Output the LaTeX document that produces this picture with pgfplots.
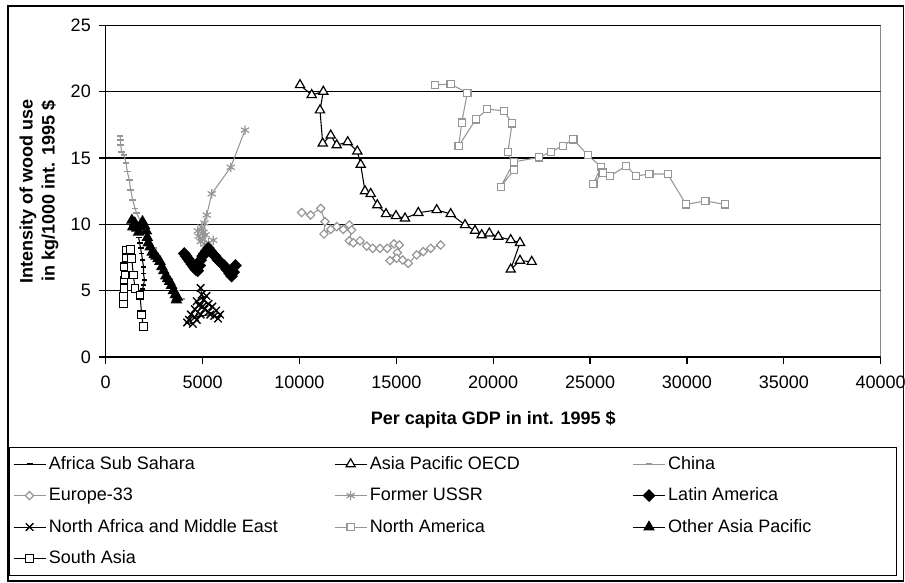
\documentclass[border=0pt]{standalone}
\usepackage{pgfplots}
\pgfplotsset{compat=1.18}
\usetikzlibrary{calc}
\usepackage{fontspec}
\setmainfont{Liberation Sans}
\definecolor{mg}{RGB}{150,150,150}
\newcommand{\LA}[1]{\makebox[212pt][l]{#1}}
\newcommand{\LBB}[1]{\makebox[195pt][l]{#1}}
\newcommand{\LC}[1]{\makebox[166pt][l]{#1}}
\newcommand{\F}{\fontsize{13.5pt}{16.5pt}\selectfont}
\begin{document}
\F
\begin{tikzpicture}[x=0.75pt,y=0.75pt]
\begin{axis}[
  scale only axis, width=581.25pt, height=248.8pt,
  xmin=0, xmax=40000, ymin=0, ymax=25,
  xtick={0,5000,...,40000}, ytick={0,5,...,25},
  scaled x ticks=false,
  xticklabel style={/pgf/number format/1000 sep={}, /pgf/number format/assume math mode=true, yshift=-4.5pt},
  yticklabel style={/pgf/number format/assume math mode=true, xshift=-1.5pt},
  tick label style={font=\F},
  axis x line*=bottom, axis y line*=left,
  axis line style={line width=0.9pt,-},
  tick style={black, line width=0.9pt},
  tick align=outside, major tick length=5pt,
  ymajorgrids, grid style={black, line width=0.9pt},
  xlabel={\bfseries Per capita GDP in int. 1995 \$},
  xlabel style={at={(axis description cs:0.5,-0.19)}, anchor=center, font=\F},
  ylabel={\bfseries Intensity of wood use\\\bfseries in kg/1000 int. 1995 \$},
  ylabel style={at={(axis description cs:-0.0861,0.5)}, anchor=center, align=center, font=\F},
  legend columns=3,
  legend cell align=left,
  legend style={at={(axis description cs:-0.1255,-0.2713)}, anchor=north west,
    draw=black, line width=0.9pt, font=\F, row sep=7.8pt, column sep=0pt,
    inner xsep=3pt, inner ysep=4.5pt, nodes={inner sep=2pt}},
  legend image code/.code={\draw[mark repeat=2,mark phase=2,#1] plot coordinates {(0pt,0pt) (12pt,0pt) (24pt,0pt)};},
]
% Africa Sub Sahara
\addplot[black, line width=0.8pt, mark=-, mark size=2.2pt, mark options={solid, line width=1.3pt}] coordinates {
(1700,9.0)(1750,8.6)(1800,8.2)(1850,7.8)(1900,7.3)(1950,6.8)(1950,6.3)(2000,5.8)(1950,5.4)(1900,5.1)(1850,5.0)};
\addlegendentry{\LA{Africa Sub Sahara}}
% Asia Pacific OECD
\addplot[black, line width=0.8pt, mark=triangle*, mark size=4pt, mark options={solid, fill=white, line width=0.9pt}] coordinates {
(10028,20.5)(10632,19.75)(11231,20.0)(11060,18.6)(11200,16.1)(11613,16.7)(11923,15.97)(12490,16.2)(12986,15.5)(13161,14.5)(13383,12.5)(13677,12.3)(14018,11.45)(14467,10.78)(14983,10.63)(15448,10.45)(16134,10.87)(17084,11.08)(17806,10.78)(18545,9.95)(19061,9.52)(19406,9.19)(19799,9.32)(20263,9.07)(20903,8.82)(21383,8.61)(20903,6.6)(21383,7.26)(21987,7.18)};
\addlegendentry{\LBB{Asia Pacific OECD}}
% China
\addplot[mg, line width=0.8pt, mark=-, mark size=2.5pt, mark options={solid, line width=1.2pt}] coordinates {
(738,16.65)(774,16.35)(774,15.97)(826,15.47)(945,15.22)(1048,14.6)(1115,13.97)(1218,13.34)(1290,12.58)(1394,11.83)(1512,11.2)(1600,10.83)(1800,10.2)(2100,9.4)(2500,8.2)(2900,7.0)(3300,5.9)(3650,5.0)(3938,4.37)};
\addlegendentry{\LC{China}}
% Europe-33
\addplot[mg, line width=0.8pt, mark=square*, mark size=2.2pt, mark options={solid, fill=white, rotate=45, line width=0.9pt}] coordinates {
(10116,10.89)(10581,10.7)(11097,11.2)(11319,10.2)(11267,9.27)(11613,9.62)(11923,9.82)(12263,9.62)(12573,9.95)(12697,9.57)(12573,8.76)(12779,8.61)(13125,8.76)(13471,8.36)(13781,8.19)(14158,8.19)(14534,8.19)(14880,8.52)(15154,8.44)(15050,7.86)(14674,7.26)(15020,7.44)(15329,7.31)(15618,7.06)(16052,7.69)(16392,7.94)(16774,8.19)(17290,8.44)};
\addlegendentry{\LA{Europe-33}}
% Former USSR
\addplot[mg, line width=0.8pt, mark=asterisk, mark size=3.5pt, mark options={solid, line width=0.9pt}] coordinates {
(5550,8.8)(5300,8.6)(5100,8.5)(4900,8.7)(4800,9.1)(4750,9.5)(4950,9.8)(5050,9.4)(5000,8.9)(5150,9.2)(5100,10.1)(5213,10.7)(5471,12.3)(6452,14.3)(7190,17.1)};
\addlegendentry{\LBB{Former USSR}}
% Latin America
\addplot[black, line width=0.8pt, mark=square*, mark size=3pt, mark options={solid, rotate=45}] coordinates {
(4050,7.8)(4150,7.6)(4250,7.4)(4350,7.2)(4450,7.0)(4550,6.8)(4650,6.6)(4750,6.5)(4850,6.9)(4900,7.3)(5000,7.6)(5100,7.8)(5200,8.0)(5300,8.2)(5400,8.0)(5500,7.8)(5650,7.6)(5800,7.3)(5950,7.1)(6100,6.9)(6250,6.6)(6400,6.3)(6500,6.1)(6600,6.4)(6700,6.9)};
\addlegendentry{\LC{Latin America}}
% North Africa and Middle East
\addplot[black, line width=0.8pt, mark=x, mark size=4pt, mark options={solid, line width=1pt}] coordinates {
(4900,5.2)(4950,4.7)(5050,4.3)(4800,3.9)(4600,3.6)(4400,3.2)(4300,2.8)(4200,2.6)(4500,2.5)(4700,2.8)(4900,3.2)(5100,3.6)(5300,4.0)(5500,3.8)(5700,3.5)(5900,3.2)(5800,2.9)(5600,3.1)(5300,3.4)(5000,3.8)(4700,4.2)(5200,4.6)(4600,3.0)(5400,3.2)};
\addlegendentry{\LA{North Africa and Middle East}}
% North America
\addplot[mg, line width=0.8pt, mark=square*, mark size=2.7pt, mark options={solid, fill=white, line width=0.9pt}] coordinates {
(17000,20.5)(17806,20.57)(18663,19.9)(18374,17.66)(18219,15.9)(19097,17.9)(19695,18.67)(20557,18.56)(20970,17.6)(20764,15.47)(21073,14.1)(20387,12.83)(21073,14.7)(22364,15.05)(22984,15.47)(23587,15.9)(24134,16.4)(24877,15.22)(25563,14.34)(25166,13.04)(25650,13.9)(26029,13.64)(26855,14.4)(27370,13.64)(28057,13.79)(29006,13.79)(29950,11.5)(30947,11.76)(31963,11.5)};
\addlegendentry{\LBB{North America}}
% Other Asia Pacific
\addplot[black, line width=0.8pt, mark=triangle*, mark size=4.3pt, mark options={solid}] coordinates {
(1350,10.3)(1400,9.8)(1500,10.1)(1600,9.7)(1700,9.4)(1800,9.8)(1900,10.2)(2000,9.9)(2100,9.5)(2150,9.0)(2200,8.6)(2300,8.3)(2400,7.9)(2500,7.7)(2600,7.6)(2700,7.4)(2800,7.2)(2900,6.8)(3000,6.5)(3100,6.1)(3200,5.9)(3300,5.7)(3400,5.4)(3500,5.0)(3600,4.7)(3700,4.5)(3650,4.3)};
\addlegendentry{\LC{Other Asia Pacific}}
% South Asia
\addplot[black, line width=0.8pt, mark=square*, mark size=2.9pt, mark options={solid, fill=white, line width=0.9pt}] coordinates {
(908,4.05)(908,4.54)(945,5.18)(945,5.8)(996,6.18)(945,6.8)(1084,7.46)(1084,8.06)(1290,8.12)(1342,7.44)(1425,6.18)(1512,5.18)(1770,4.67)(1858,3.17)(1941,2.28)};
\addlegendentry{\LA{South Asia}}
\draw[black!70, line width=1.2pt] (rel axis cs:1,0) -- (rel axis cs:1,1);
\coordinate (O) at (rel axis cs:0,0);
\end{axis}
\pgfresetboundingbox
\path[use as bounding box] ($(O)+(-105.7,-225)$) rectangle ($(O)+(799.3,357)$);
\draw[line width=1.1pt] ($(O)+(-97.7,-224)$) rectangle ($(O)+(797.8,351)$);
\end{tikzpicture}
\end{document}
